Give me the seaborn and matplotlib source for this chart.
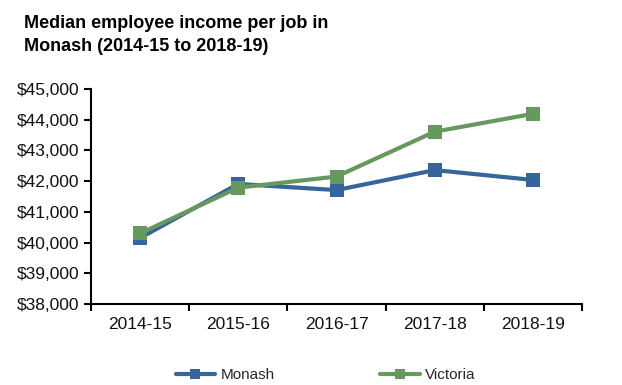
import pandas as pd
import matplotlib
matplotlib.use('Agg')
import matplotlib.pyplot as plt
import seaborn as sns

years = ['2014-15', '2015-16', '2016-17', '2017-18', '2018-19']
monash = [40150, 41910, 41710, 42360, 42040]
victoria = [40300, 41790, 42150, 43610, 44190]
yticks = [38000, 39000, 40000, 41000, 42000, 43000, 44000, 45000]

sns.set_style('white')
plt.rcParams['font.family'] = ['Liberation Sans', 'DejaVu Sans']

df = pd.DataFrame({
    'year': years * 2,
    'x': list(range(len(years))) * 2,
    'income': monash + victoria,
    'area': ['Monash'] * len(years) + ['Victoria'] * len(years),
})

fig = plt.figure(figsize=(6.22, 3.85), dpi=100)
ax = fig.add_axes([0.146, 0.21, 0.79, 0.559])

palette = {'Monash': '#35659A', 'Victoria': '#67995F'}
sns.lineplot(data=df, x='x', y='income', hue='area', palette=palette,
             style='area', markers={'Monash': 's', 'Victoria': 's'}, dashes=False,
             linewidth=3, markersize=10, markeredgewidth=0, ax=ax)

ax.set_xlim(-0.5, len(years) - 0.5)
ax.set_ylim(yticks[0], yticks[-1])
ax.set_yticks(yticks)
ax.set_yticklabels([f'${v:,}' for v in yticks], fontsize=12.5, color='#111111')
ax.set_xticks(range(len(years)))
ax.set_xticklabels(years, fontsize=12.5, color='#111111')
ax.set_xticks([i - 0.5 for i in range(len(years) + 1)], minor=True)
ax.tick_params(axis='x', which='major', bottom=True, length=0, pad=9)
ax.tick_params(axis='x', which='minor', bottom=True, length=5, width=1.5,
               direction='out', color='black')
ax.tick_params(axis='y', left=True, length=5, width=1.5, direction='out',
               color='black', pad=3)
ax.set_xlabel('')
ax.set_ylabel('')
for side in ['top', 'right']:
    ax.spines[side].set_visible(False)
for side in ['left', 'bottom']:
    ax.spines[side].set_color('black')
    ax.spines[side].set_linewidth(1.5)

fig.text(0.039, 0.962, 'Median employee income per job in\nMonash (2014-15 to 2018-19)',
         fontsize=13, fontweight='bold', va='top', ha='left', linespacing=1.5,
         color='black')

handles, labels = ax.get_legend_handles_labels()
ax.legend(handles, labels, loc='center', bbox_to_anchor=(0.478, -0.33), ncol=2,
          frameon=False, fontsize=11, columnspacing=6.9, handlelength=2.6,
          handletextpad=0.35, markerscale=0.7)

fig.savefig('out.png', dpi=100)
